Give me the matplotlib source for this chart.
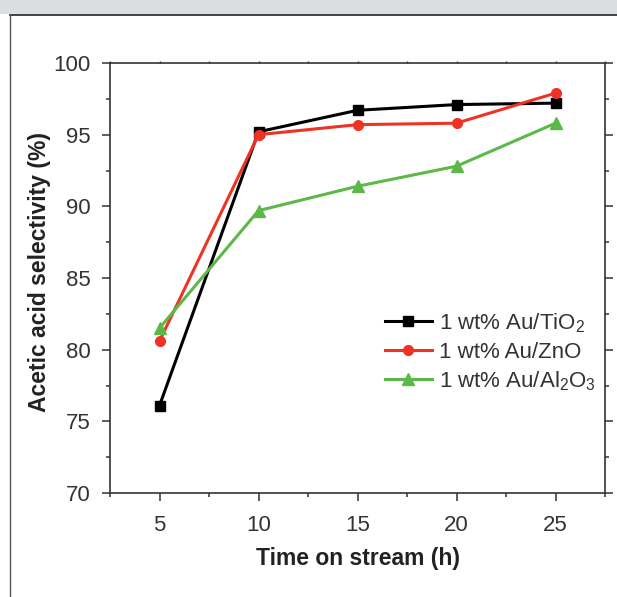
import matplotlib
matplotlib.use("Agg")
from matplotlib import pyplot as plt
from matplotlib.patches import Rectangle
from matplotlib.lines import Line2D
from matplotlib.ticker import MultipleLocator

plt.rcParams['font.family'] = ['Liberation Sans', 'DejaVu Sans']
plt.rcParams['mathtext.fontset'] = 'custom'
plt.rcParams['mathtext.rm'] = 'Liberation Sans'
plt.rcParams['mathtext.it'] = 'Liberation Sans'

## data
hours = [5, 10, 15, 20, 25]
sel_tio2 = [76.1, 95.2, 96.7, 97.1, 97.2]
sel_zno = [80.6, 95.0, 95.7, 95.8, 97.9]
sel_al2o3 = [81.5, 89.7, 91.4, 92.8, 95.8]
labels = [r'1 wt% Au/TiO$_2$', '1 wt% Au/ZnO', r'1 wt% Au/Al$_2$O$_3$']

W, H = 617, 597
fig = plt.figure(figsize=(W / 100, H / 100), dpi=100)

## page decoration: grey band, rule under it, left rule
fig.patches.append(Rectangle((0, 1 - 14 / H), 1, 14 / H, transform=fig.transFigure,
                             facecolor='#dcdddf', edgecolor='none'))
fig.lines.append(Line2D([10 / W, 1], [1 - 14.5 / H] * 2, transform=fig.transFigure,
                        color='#222222', lw=1.2))
fig.lines.append(Line2D([10.5 / W] * 2, [0, 1 - 14.5 / H], transform=fig.transFigure,
                        color='#555555', lw=1.0))

ax = fig.add_axes([110 / W, 1 - 493 / H, (605 - 110) / W, (493 - 63) / H])

ax.plot(hours, sel_tio2, color='black', lw=2.2, marker='s', ms=6.5, label=labels[0])
ax.plot(hours, sel_zno, color='#ee3325', lw=2.2, marker='o', ms=7, label=labels[1])
ax.plot(hours, sel_al2o3, color='#5cb947', lw=2.2, marker='^', ms=8, label=labels[2])

ax.set_xlim(2.5, 27.5)
ax.set_ylim(70, 100)
ax.xaxis.set_major_locator(MultipleLocator(5))
ax.xaxis.set_minor_locator(MultipleLocator(2.5))
ax.yaxis.set_major_locator(MultipleLocator(5))
ax.yaxis.set_minor_locator(MultipleLocator(2.5))

for s in ax.spines.values():
    s.set_color('#333333')
    s.set_linewidth(1.2)

ax.tick_params(axis='both', which='both', direction='out', color='#333333', width=1.1,
               labelsize=16, labelcolor='#333333')
ax.tick_params(axis='both', which='major', length=6)
ax.tick_params(axis='both', which='minor', length=3)
ax.tick_params(axis='y', which='both', right=True, pad=8)
ax.tick_params(axis='x', which='both', pad=10)

## tiny ticks along the top edge
top = ax.secondary_xaxis('top')
top.xaxis.set_major_locator(MultipleLocator(2.5))
top.tick_params(direction='out', length=1.5, width=1.0, color='#333333', labeltop=False)
top.spines['top'].set_visible(False)

ax.set_xlabel('Time on stream (h)', fontsize=16.5, fontweight='bold', color='#222222')
ax.set_ylabel('Acetic acid selectivity (%)', fontsize=16.5, fontweight='bold', color='#222222')
ax.xaxis.set_label_coords(0.5, -0.153)
ax.yaxis.set_label_coords(-0.142, 0.515)
ax.xaxis.label.set_va('center')
ax.yaxis.label.set_va('center')

ax.legend(loc='center left', bbox_to_anchor=(385 / W, 1 - 352 / H), bbox_transform=fig.transFigure,
          frameon=False, fontsize=16, handlelength=2.1, handletextpad=0.35,
          labelspacing=0.3, borderpad=0, borderaxespad=0)
for t in ax.get_legend().get_texts():
    t.set_color('#333333')

fig.savefig('out.png', dpi=100)
